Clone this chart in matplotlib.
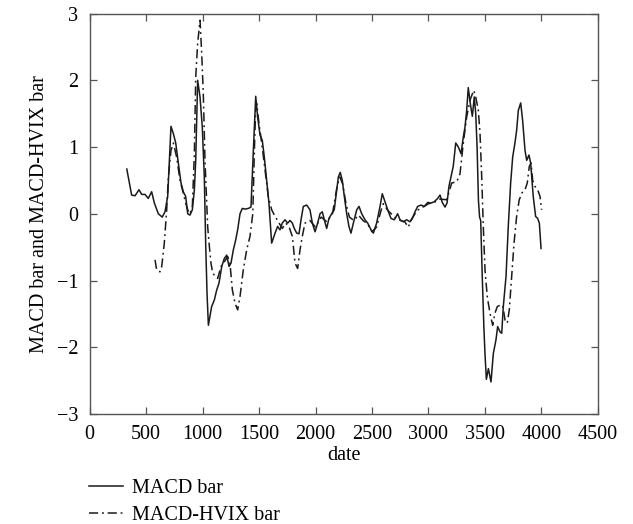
import matplotlib
matplotlib.use("Agg")
import matplotlib.pyplot as plt

# MACD bar (solid line)
macd_x = [330, 373, 403, 438, 462, 491, 520, 550, 574, 609, 644, 668, 692, 721, 742, 763,
          786, 810, 830, 851, 869, 889, 910, 928, 940, 957, 978, 998, 1016, 1028, 1040, 1052,
          1081, 1105, 1126, 1146, 1170, 1193, 1214, 1235, 1252, 1273, 1294, 1311, 1332, 1352,
          1376, 1405, 1429, 1450, 1471, 1488, 1509, 1529, 1547, 1568, 1588, 1612, 1642, 1665,
          1686, 1706, 1730, 1754, 1774, 1795, 1812, 1834, 1854, 1872, 1892, 1922, 1951, 1972,
          1996, 2019, 2040, 2060, 2078, 2099, 2119, 2143, 2166, 2188, 2202, 2219, 2237, 2255,
          2276, 2296, 2314, 2335, 2365, 2385, 2409, 2438, 2462, 2491, 2512, 2541, 2571, 2591,
          2615, 2639, 2668, 2697, 2727, 2748, 2777, 2807, 2836, 2857, 2881, 2904, 2934, 2963,
          2993, 3022, 3051, 3081, 3102, 3122, 3146, 3164, 3181, 3199, 3219, 3241, 3264, 3288,
          3308, 3323, 3338, 3352, 3370, 3388, 3405, 3418, 3430, 3442, 3452, 3462, 3475, 3490,
          3500, 3512, 3530, 3553, 3574, 3597, 3612, 3633, 3648, 3662, 3686, 3706, 3727, 3745,
          3765, 3780, 3795, 3816, 3833, 3854, 3869, 3889, 3904, 3927, 3948, 3966, 3981, 3996]
macd_y = [0.67, 0.28, 0.27, 0.36, 0.29, 0.29, 0.23, 0.33, 0.16, 0.00, -0.05, 0.03, 0.26, 1.31,
          1.20, 1.06, 0.76, 0.46, 0.33, 0.26, 0.00, -0.02, 0.06, 0.36, 0.80, 2.00, 1.75, 1.30,
          0.55, -0.44, -1.19, -1.67, -1.39, -1.29, -1.14, -1.04, -0.79, -0.67, -0.62, -0.79,
          -0.74, -0.54, -0.39, -0.24, 0.00, 0.08, 0.07, 0.08, 0.10, 0.95, 1.76, 1.45, 1.18,
          1.10, 0.85, 0.50, 0.16, -0.44, -0.29, -0.19, -0.24, -0.14, -0.09, -0.14, -0.10,
          -0.14, -0.22, -0.29, -0.30, -0.09, 0.11, 0.13, 0.06, -0.14, -0.27, -0.14, 0.00, 0.03,
          -0.09, -0.22, -0.07, 0.00, 0.06, 0.36, 0.55, 0.62, 0.50, 0.26, 0.00, -0.19, -0.29,
          -0.14, 0.06, 0.11, 0.00, -0.09, -0.14, -0.24, -0.29, -0.14, 0.11, 0.30, 0.18, 0.06,
          -0.07, -0.09, 0.00, -0.09, -0.12, -0.09, -0.12, -0.07, 0.03, 0.11, 0.13, 0.11, 0.17,
          0.16, 0.18, 0.23, 0.28, 0.17, 0.10, 0.16, 0.41, 0.55, 0.71, 1.06, 1.00, 0.90, 1.15,
          1.30, 1.55, 1.89, 1.65, 1.46, 1.75, 1.50, 1.00, 0.20, -0.05, -0.10, -0.90, -1.70,
          -2.10, -2.48, -2.32, -2.52, -2.09, -1.89, -1.69, -1.77, -1.79, -1.39, -0.94, -0.19,
          0.46, 0.85, 1.06, 1.25, 1.55, 1.66, 1.40, 0.95, 0.80, 0.88, 0.76, 0.26, -0.04, -0.07,
          -0.14, -0.52]

# MACD-HVIX bar (dash-dot line)
hvix_x = [580, 594, 624, 639, 662, 683, 698, 721, 742, 757, 771, 801, 830, 851, 869, 889,
          910, 928, 940, 957, 978, 993, 1007, 1022, 1046, 1066, 1075, 1090, 1105, 1134, 1164,
          1193, 1223, 1243, 1264, 1288, 1311, 1332, 1361, 1391, 1420, 1445, 1460, 1470, 1480,
          1500, 1524, 1553, 1582, 1612, 1642, 1677, 1706, 1736, 1765, 1795, 1819, 1842, 1863,
          1883, 1907, 1950, 2000, 2050, 2100, 2150, 2190, 2215, 2240, 2270, 2300, 2340, 2380,
          2420, 2460, 2500, 2540, 2580, 2600, 2640, 2700, 2750, 2790, 2821, 2850, 2900, 2950,
          3000, 3050, 3100, 3161, 3205, 3250, 3279, 3308, 3338, 3367, 3400, 3418, 3441, 3456,
          3471, 3485, 3500, 3520, 3544, 3568, 3588, 3609, 3633, 3657, 3677, 3697, 3715, 3736,
          3757, 3780, 3803, 3833, 3854, 3874, 3892, 3907, 3922, 3942, 3966, 3987, 4001]
hvix_y = [-0.69, -0.84, -0.87, -0.79, -0.44, 0.06, 0.55, 0.95, 1.06, 0.95, 0.85, 0.50, 0.31,
          0.16, 0.06, 0.00, 0.11, 0.90, 2.05, 2.55, 2.90, 2.40, 1.80, 0.80, -0.20, -0.59,
          -0.74, -0.89, -0.92, -0.97, -0.79, -0.72, -0.64, -0.74, -1.14, -1.34, -1.44, -1.24,
          -0.84, -0.54, -0.34, 0.00, 1.00, 1.55, 1.65, 1.35, 1.06, 0.66, 0.26, 0.06, -0.04,
          -0.14, -0.22, -0.14, -0.19, -0.34, -0.74, -0.82, -0.54, -0.34, -0.14, -0.10, -0.20,
          -0.05, -0.12, 0.00, 0.40, 0.55, 0.45, 0.15, -0.05, -0.10, -0.02, -0.10, -0.15,
          -0.27, -0.20, 0.05, 0.15, 0.05, -0.05, -0.10, -0.12, -0.20, -0.08, 0.05, 0.10, 0.15,
          0.17, 0.22, 0.21, 0.46, 0.48, 0.60, 1.06, 1.45, 1.70, 1.85, 1.75, 1.55, 1.20, 0.55,
          -0.19, -0.84, -1.24, -1.49, -1.67, -1.49, -1.39, -1.37, -1.37, -1.59, -1.64, -1.44,
          -0.94, -0.44, -0.04, 0.21, 0.33, 0.36, 0.46, 0.71, 0.76, 0.50, 0.41, 0.36, 0.26, 0.06]

plt.rcParams['font.family'] = ['Liberation Serif', 'DejaVu Serif']
plt.rcParams['font.size'] = 14.5

fig = plt.figure(figsize=(6.33, 5.24), dpi=100)
ax = fig.add_axes([0.1414, 0.2099, 0.8033, 0.7643])

ax.plot(macd_x, macd_y, color='#1a1a1a', lw=1.1, label='MACD bar')
ax.plot(hvix_x, hvix_y, color='#1a1a1a', lw=1.1, dashes=(6, 2.5, 1.2, 2.5),
        label='MACD-HVIX bar')

ax.set_xlim(0, 4500)
ax.set_ylim(-3, 3)
ax.set_xticks(range(0, 4501, 500))
ax.set_yticks(range(-3, 4))
ax.set_yticklabels(['\u22123', '\u22122', '\u22121', '0', '1', '2', '3'])
ax.tick_params(direction='in', top=True, right=True, length=5, width=0.9,
               color='#555555', labelsize=14.5, pad=8)
for s in ax.spines.values():
    s.set_color('#555555')
    s.set_linewidth(1.0)

ax.set_xlabel('date', fontsize=14.5, labelpad=1)
ax.set_ylabel('MACD bar and MACD-HVIX bar', fontsize=14.5, labelpad=6)

fig.legend(loc='upper left', bbox_to_anchor=(0.1406, 0.086), frameon=False,
           fontsize=14.5, handlelength=1.7, handletextpad=0.45, labelspacing=0.4,
           borderaxespad=0, borderpad=0)

fig.savefig('out.png', dpi=100)
